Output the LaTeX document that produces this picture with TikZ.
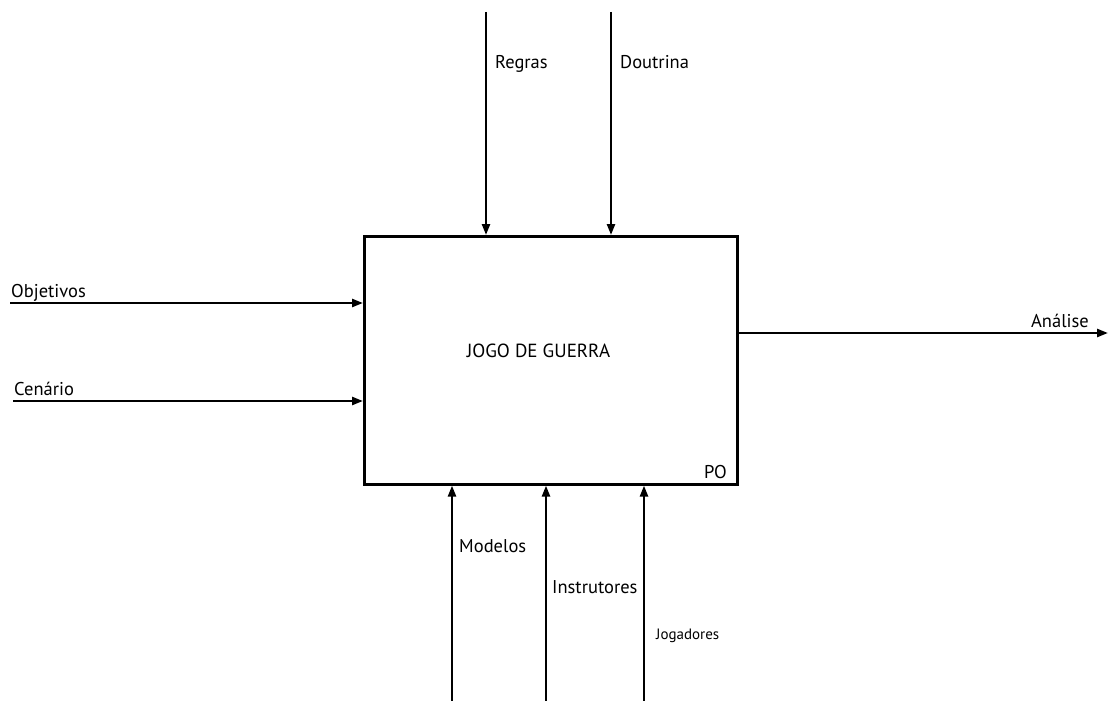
\documentclass[tikz,border=0pt]{standalone}
\usepackage{fontspec}
\setmainfont{PT Sans}
\usetikzlibrary{arrows.meta}
\begin{document}
\begin{tikzpicture}[x=1pt,y=-1pt,
  line width=2.4pt,
  flow/.style={-{Triangle[length=11pt,width=8pt]}},
  lbl/.style={font=\fontsize{18.5}{21}\selectfont, inner sep=0pt, anchor=base west},
  smalllbl/.style={font=\fontsize{15}{18}\selectfont, inner sep=0pt, anchor=base west},
  boxstyle/.style={draw, line width=2.6pt, minimum width=373pt, minimum height=248pt, inner sep=0pt, anchor=north west}]
\useasboundingbox (0,0) rectangle (1108,701);
\node[boxstyle] (box) at (363,235) {};
\node[font=\fontsize{19}{22}\selectfont, inner sep=0pt, anchor=base] (title) at (538.5,357) {JOGO DE GUERRA};
\node[lbl, anchor=base east] (po) at (728,478) {PO};
% controls
\coordinate (rtop) at (486,12);
\coordinate (dtop) at (611,12);
\draw[flow] (rtop) -- (rtop |- box.north);
\draw[flow] (dtop) -- (dtop |- box.north);
\node[lbl] (regras) at (494,68) {Regras};
\node[lbl] (doutrina) at (619,68) {Doutrina};
% inputs
\coordinate (oin) at (10,303);
\coordinate (cin) at (13,401);
\draw[flow] (oin) -- (oin -| box.west);
\draw[flow] (cin) -- (cin -| box.west);
\node[lbl] (objetivos) at (10,297) {Objetivos};
\node[lbl] (cenario) at (13,395) {Cenário};
% output
\coordinate (aout) at (1108,333);
\draw[flow] (aout -| box.east) -- (aout);
\node[lbl, anchor=base east] (analise) at (1090,327) {Análise};
% mechanisms
\coordinate (mbot) at (452,701);
\coordinate (ibot) at (546,701);
\coordinate (jbot) at (644,701);
\draw[flow] (mbot) -- (mbot |- box.south);
\draw[flow] (ibot) -- (ibot |- box.south);
\draw[flow] (jbot) -- (jbot |- box.south);
\node[lbl] (modelos) at (458,552) {Modelos};
\node[lbl] (instrutores) at (551,593) {Instrutores};
\node[smalllbl] (jogadores) at (655,639) {Jogadores};
\end{tikzpicture}
\end{document}
